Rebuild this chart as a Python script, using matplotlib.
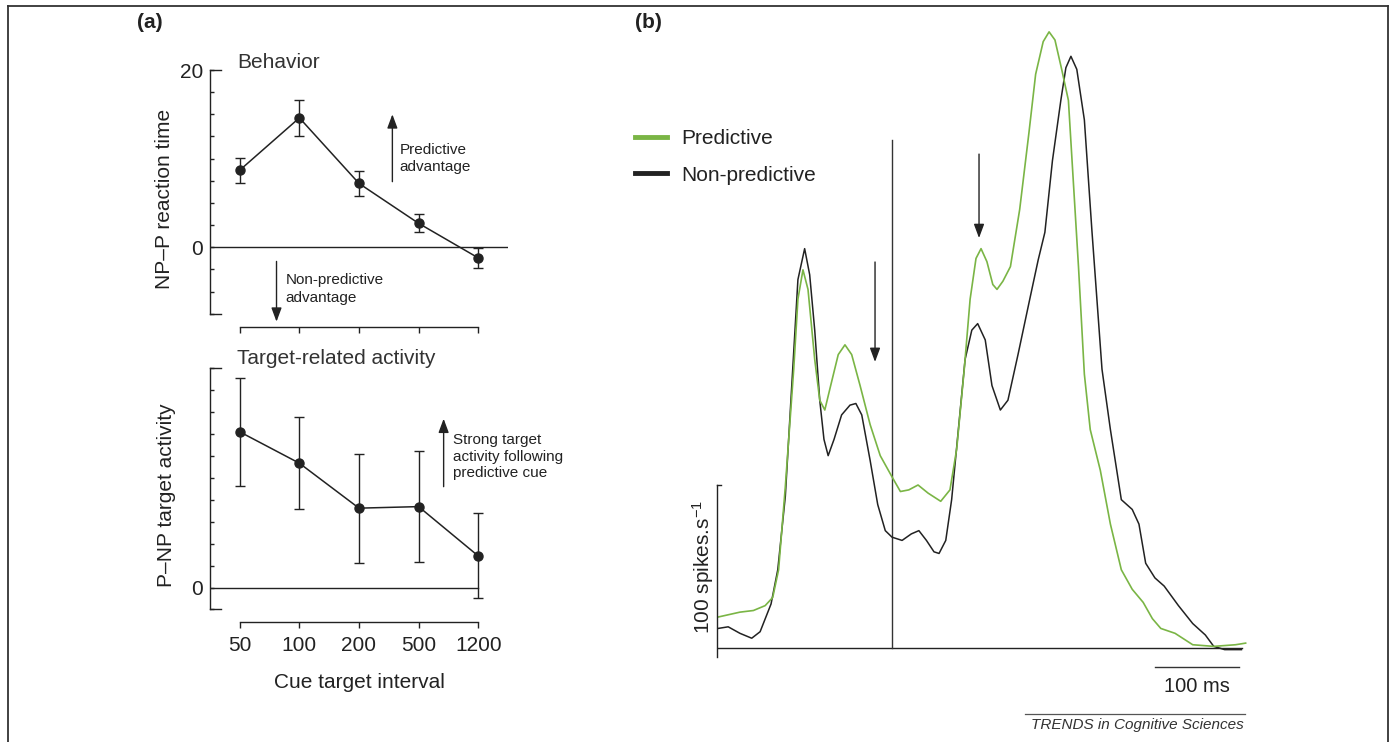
import numpy as np
import matplotlib
matplotlib.use("Agg")
import matplotlib.pyplot as plt
from matplotlib.lines import Line2D

plt.rcParams['font.family'] = ['Liberation Sans', 'DejaVu Sans']
plt.rcParams['mathtext.default'] = 'regular'

# ---- data, panel (a) ----
intervals = ['50', '100', '200', '500', '1200']
rt_mean = [8.7, 14.6, 7.2, 2.7, -1.2]          # NP-P reaction time
rt_err = [1.4, 2.0, 1.45, 1.0, 1.15]
act_mean = [7.1, 5.67, 3.62, 3.69, 1.44]       # P-NP target activity
act_err = [2.46, 2.09, 2.49, 2.52, 1.94]

# ---- data, panel (b): time (ms, cue at 0) and rate (spikes/s) ----
pred_t = [-207, -181, -165, -151, -142, -135, -127, -117, -112, -106,
          -100, -92, -86, -80, -73, -64, -56, -48, -38, -26,
          -14, 0, 10, 20, 31, 43, 58, 69, 77, 86,
          93, 100, 106, 113, 120, 125, 132, 141, 152, 163,
          171, 180, 187, 194, 202, 210, 222, 229, 236, 248,
          260, 273, 286, 299, 310, 320, 337, 358, 383, 409, 421]
pred_rate = [19, 22, 23, 26, 31, 48, 99, 171, 214, 232,
             220, 177, 152, 146, 161, 180, 186, 180, 161, 137,
             118, 105, 96, 97, 100, 95, 90, 97, 122, 171,
             214, 239, 245, 237, 223, 220, 225, 234, 269, 316,
             352, 372, 378, 373, 355, 336, 234, 168, 134, 109,
             76, 48, 36, 28, 18, 12, 9, 2, 1, 2, 3]
nonpred_t = [-207, -195, -181, -167, -157, -144, -136, -127, -119, -112,
             -104, -98, -92, -86, -81, -76, -69, -60, -50, -43,
             -36, -26, -17, -8, 0, 12, 23, 32, 41, 50,
             56, 64, 71, 79, 87, 95, 102, 111, 119, 129,
             138, 150, 164, 174, 182, 191, 201, 207, 213, 220,
             229, 238, 250, 260, 273, 286, 294, 302, 313, 324,
             341, 358, 373, 383, 396, 416]
nonpred_rate = [12, 13, 9, 6, 10, 27, 48, 93, 164, 226,
                245, 229, 195, 152, 128, 118, 128, 143, 149, 150,
                143, 115, 88, 72, 68, 66, 70, 72, 66, 59,
                58, 66, 91, 134, 177, 195, 199, 189, 161, 146,
                152, 180, 214, 238, 255, 299, 336, 356, 363, 355,
                324, 256, 171, 134, 91, 85, 76, 52, 43, 38,
                26, 15, 8, 1, -1, -1]

W, H = 1394, 742
ink = '#222222'
green = '#7ab545'
arrow_kw = dict(arrowstyle='-|>,head_length=0.7,head_width=0.26', color=ink, lw=1.0,
                mutation_scale=12, shrinkA=0, shrinkB=0)


def fx(px):
    return px / W


def fy(py):
    return 1 - py / H


fig = plt.figure(figsize=(W / 100, H / 100), dpi=100)

# frame round the figure (bottom edge cut off)
for xs, ys in [([7.5, 7.5], [742, 6]), ([7.5, 1387.5], [6, 6]), ([1387.5, 1387.5], [6, 742])]:
    fig.add_artist(Line2D([fx(v) for v in xs], [fy(v) for v in ys], color='#333333', lw=1.3))

fig.text(fx(150), fy(22), '(a)', fontsize=15, fontweight='bold', ha='center', va='center', color=ink)
fig.text(fx(648), fy(22), '(b)', fontsize=15, fontweight='bold', ha='center', va='center', color=ink)

x = np.arange(len(intervals))

# ---- (a) top: behaviour ----
ax1 = fig.add_axes([fx(210), fy(327), 298 / W, 257 / H])
ax1.axhline(0, color=ink, lw=1.0)
ax1.errorbar(x, rt_mean, yerr=rt_err, color=ink, lw=1.1, marker='o', ms=6.5,
             capsize=3.5, elinewidth=1.0, capthick=1.0)
ax1.set_xlim(-0.5, 4.5)
ax1.set_ylim(-9, 20)
yt1 = np.arange(-7.5, 20.1, 2.5)
ax1.set_yticks(yt1)
ax1.set_yticklabels(['20' if v == 20 else '0' if v == 0 else '' for v in yt1])
ax1.set_xticks(x)
ax1.set_xticklabels([])
ax1.plot([-0.5, -0.31], [20, 20], color=ink, lw=1.0, clip_on=False)
ax1.plot([-0.5, -0.31], [-7.5, -7.5], color=ink, lw=1.0, clip_on=False)
ax1.spines['left'].set_bounds(-7.5, 20)
ax1.spines['bottom'].set_bounds(0, 4)
ax1.set_ylabel('NP\u2013P reaction time', fontsize=15, color=ink, labelpad=4)
ax1.text(-0.05, 20.8, 'Behavior', fontsize=15, color='#333333', ha='left', va='center')
ax1.annotate('', xy=(2.56, 15.0), xytext=(2.56, 7.4), arrowprops=arrow_kw)
ax1.text(2.68, 10.0, 'Predictive\nadvantage', fontsize=11, color=ink, ha='left', va='center',
         linespacing=1.3)
ax1.annotate('', xy=(0.616, -8.4), xytext=(0.616, -1.6), annotation_clip=False, arrowprops=arrow_kw)
ax1.text(0.77, -4.7, 'Non-predictive\nadvantage', fontsize=11, color=ink, ha='left', va='center',
         linespacing=1.3)

# ---- (a) bottom: target activity ----
ax2 = fig.add_axes([fx(210), fy(621.7), 298 / W, 253.4 / H])
ax2.plot([-0.5, 4], [0, 0], color=ink, lw=1.0)
ax2.errorbar(x, act_mean, yerr=act_err, color=ink, lw=1.1, marker='o', ms=6.5,
             capsize=3.5, elinewidth=1.0, capthick=1.0)
ax2.set_xlim(-0.5, 4.5)
ax2.set_ylim(-1.56, 10)
yt2 = np.arange(-1, 11)
ax2.set_yticks(yt2)
ax2.set_yticklabels(['0' if v == 0 else '' for v in yt2])
ax2.set_xticks(x)
ax2.set_xticklabels(intervals)
ax2.plot([-0.5, -0.31], [10, 10], color=ink, lw=1.0, clip_on=False)
ax2.plot([-0.5, -0.31], [-1, -1], color=ink, lw=1.0, clip_on=False)
ax2.spines['left'].set_bounds(-1, 10)
ax2.spines['bottom'].set_bounds(0, 4)
ax2.set_ylabel('P\u2013NP target activity', fontsize=15, color=ink, labelpad=11)
ax2.set_xlabel('Cue target interval', fontsize=15, color=ink, labelpad=13)
ax2.text(-0.05, 10.43, 'Target-related activity', fontsize=15, color='#333333', ha='left', va='center')
ax2.annotate('', xy=(3.42, 7.7), xytext=(3.42, 4.6), arrowprops=arrow_kw)
ax2.text(3.57, 5.97, 'Strong target\nactivity following\npredictive cue', fontsize=11, color=ink,
         ha='left', va='center', linespacing=1.22)

for ax in (ax1, ax2):
    for s in ('top', 'right'):
        ax.spines[s].set_visible(False)
    for s in ('left', 'bottom'):
        ax.spines[s].set_color(ink)
        ax.spines[s].set_linewidth(1.0)
    ax.tick_params(axis='y', direction='in', length=3, width=1.0, labelsize=15, pad=5, colors=ink)
    ax.tick_params(axis='x', direction='out', length=4, width=1.0, labelsize=15, pad=6, colors=ink)

# ---- (b) spike density ----
axb = fig.add_axes([fx(716.7), fy(700), (1250 - 716.7) / W, 675 / H])
axb.set_xlim((716.7 - 892) / 0.84, (1250 - 892) / 0.84)
axb.set_ylim(-31.9, 382.2)
axb.axis('off')
axb.plot([axb.get_xlim()[0], 417], [0, 0], color=ink, lw=1.0)
axb.plot([0, 0], [0, 311.7], color='#333333', lw=1.0)
axb.plot(nonpred_t, nonpred_rate, color=ink, lw=1.1, label='Non-predictive',
         solid_joinstyle='round')
axb.plot(pred_t, pred_rate, color=green, lw=1.2, label='Predictive', solid_joinstyle='round')
x0 = axb.get_xlim()[0]
axb.plot([x0, x0], [-5.5, 100], color=ink, lw=1.0, clip_on=False)
axb.plot([x0, x0 + 5], [100, 100], color=ink, lw=1.0, clip_on=False)
axb.text(-225, 50, '100 spikes.s$^{-1}$', rotation=90, fontsize=15, color=ink,
         ha='center', va='center', clip_on=False)
axb.plot([313, 413], [-11.7, -11.7], color='#333333', lw=1.0)
axb.text(363, -23.5, '100 ms', fontsize=14.5, color=ink, ha='center', va='center')
axb.annotate('', xy=(103.6, 251.5), xytext=(103.6, 303), arrowprops=arrow_kw)
axb.annotate('', xy=(-20.2, 175.5), xytext=(-20.2, 236.8), arrowprops=arrow_kw)

h, l = axb.get_legend_handles_labels()
leg = axb.legend(h[::-1], l[::-1], loc='upper left', bbox_to_anchor=(fx(635), fy(129)),
                 bbox_transform=fig.transFigure, frameon=False, fontsize=15, borderpad=0,
                 borderaxespad=0, handlelength=1.55, handletextpad=0.67, labelspacing=0.85)
for ln in leg.get_lines():
    ln.set_linewidth(3.5)
for t in leg.get_texts():
    t.set_color(ink)

# journal footer
fig.add_artist(Line2D([fx(1025), fx(1245)], [fy(714), fy(714)], color='#555555', lw=0.9))
fig.text(fx(1244), fy(725), 'TRENDS in Cognitive Sciences', fontsize=11, style='italic',
         color='#333333', ha='right', va='center')

fig.savefig('out.png', dpi=100, facecolor='white')
